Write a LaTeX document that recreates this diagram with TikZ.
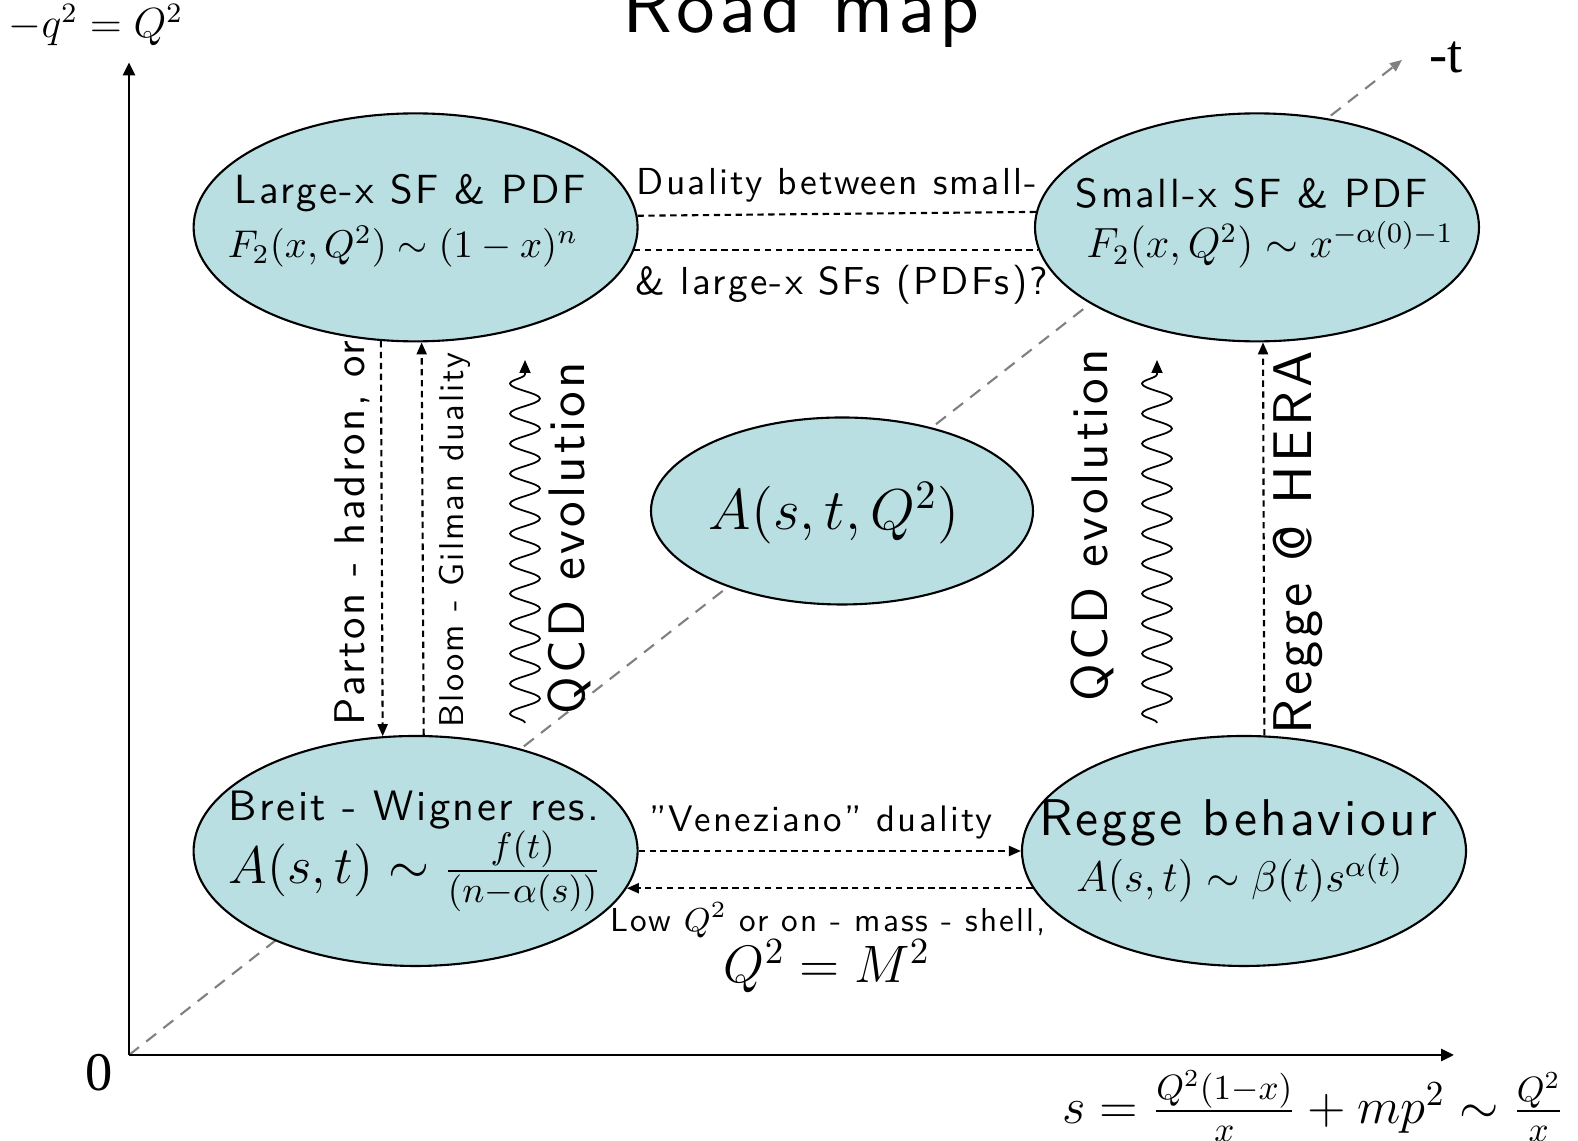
\RequirePackage{fix-cm}
\documentclass[tikz,border=0pt]{standalone}
\usepackage{amsmath}
\usepackage{fontspec}
\setsansfont{lmsans10-regular.otf}[LetterSpace=6]
\newfontfamily\timesfont{Liberation Serif}
\usetikzlibrary{arrows.meta, positioning, shapes.geometric, decorations.pathmorphing}
\definecolor{blobfill}{RGB}{185,223,227}
\tikzset{%
	blob/.style={
		ellipse,
		draw,
		line width=0.6pt,
		fill=blobfill,
		inner sep=0pt
	},
	lbl/.style={
		font=\fontsize{#1}{#1}\selectfont\sffamily,
		inner sep=1pt
	},
	num/.style={
		font=\fontsize{#1}{#1}\selectfont\rmfamily,
		inner sep=1pt
	},
	tms/.style={
		font=\fontsize{#1}{#1}\selectfont\timesfont,
		inner sep=1pt
	},
	link/.style={
		dash pattern=on 1.8pt off 1.3pt,
		line width=0.6pt
	},
	tip/.style={-{Triangle[length=1.2mm,width=1mm]}},
	axis/.style={line width=0.8pt, -{Triangle[length=1.3mm,width=1.2mm]}},
	wiggle/.style={
		decorate,
		decoration={snake, amplitude=1.5mm, segment length=3mm, post length=1.4mm},
		line width=0.5pt,
		-{Triangle[length=1.3mm,width=1.1mm]}
	},
}

\begin{document}
\begin{tikzpicture}
			\useasboundingbox (0,0) rectangle (15.78,11.41);
			\node[lbl=22, anchor=base] (title) at (8.01,11.08) {Road map};

			% axes and the -t diagonal
			\coordinate (O) at (1.29,0.86);
			\coordinate (ytop) at (1.29,10.785);
			\coordinate (xend) at (14.54,0.86);
			\coordinate (tend) at (14.02,10.81);
			\draw[gray, line width=0.6pt, dash pattern=on 3.6pt off 2.6pt, -{Triangle[length=1.2mm,width=1mm]}] (O) -- (tend);
			\draw[axis] (O) -- (ytop);
			\draw[axis] (O) -- (xend);
			\node[tms=15.5] (zero) at (0.99,0.68) {0};
			\node[num=12] (qlab) at (0.96,11.16) {$-q^2=Q^2$};
			\node[tms=15.5] (tlab) at (14.46,10.84) {-t};
			\node[num=14.4, anchor=west] (slab) at (10.58,0.35) {$s=\frac{Q^2(1{-}x)}{x}+mp^2\sim\frac{Q^2}{x}$};

			% the five regions
			\node[blob, minimum width=4.44cm, minimum height=2.28cm] (TL) at (4.156,9.136) {};
			\node[blob, minimum width=4.44cm, minimum height=2.28cm] (TR) at (12.57,9.136) {};
			\node[blob, minimum width=3.82cm, minimum height=1.87cm] (M) at (8.42,6.30) {};
			\node[blob, minimum width=4.44cm, minimum height=2.30cm] (BL) at (4.156,2.90) {};
			\node[blob, minimum width=4.44cm, minimum height=2.30cm] (BR) at (12.44,2.90) {};

			\node[lbl=11.6] (TLa) at (4.10,9.48) {Large-x SF \& PDF};
			\node[lbl=11] (TLb) at (4.03,8.94) {$F_2(x,Q^2)\sim(1-x)^n$};
			\node[lbl=11.6] (TRa) at (12.52,9.48) {Small-x SF \& PDF};
			\node[lbl=12] (TRb) at (12.70,8.96) {$F_2(x,Q^2)\sim x^{-\alpha(0)-1}$};
			\node[lbl=16.4] (Ma) at (8.34,6.28) {$A(s,t,Q^2)$};
			\node[lbl=12.1] (BLa) at (4.14,3.31) {Breit - Wigner res.};
			\node[lbl=15] (BLb) at (4.15,2.70) {$A(s,t)\sim\frac{f(t)}{(n{-}\alpha(s))}$};
			\node[lbl=14.7] (BRa) at (12.38,3.18) {Regge behaviour};
			\node[lbl=12.2] (BRb) at (12.40,2.63) {$A(s,t)\sim\beta(t)s^{\alpha(t)}$};

			% horizontal links
			\draw[link] (TL.3.4) -- (TR.176.6);
			\draw[link] (TL.-6.6) -- (TR.186.6);
			\node[lbl=10.7] (dual1) at (8.37,9.56) {Duality between small-};
			\node[lbl=11.1] (dual2) at (8.42,8.56) {\& large-x SFs (PDFs)?};

			\draw[link, tip] (BL.east) -- (BR.west);
			\draw[link, tip] (BR.190.3) -- (BL.-10.3);
			\node[lbl=10.5] (ven) at (8.21,3.19) {"Veneziano'' duality};
			\node[lbl=9.45] (low) at (8.28,2.21) {Low $Q^2$ or on - mass - shell,};
			\node[lbl=15] (mass) at (8.27,1.75) {$Q^2=M^2$};

			% vertical links
			\draw[link, tip] (TL.253.9) -- (BL.106.1);
			\draw[link, tip] (BL.86.8) -- (TL.273.2);
			\draw[link, tip] (BR.80.6) -- (TR.273);
			\node[lbl=12.2, rotate=90] (parton) at (3.52,6.08) {Parton - hadron, or};
			\node[lbl=9.8, rotate=90] (bloom) at (4.55,6.01) {Bloom - Gilman duality};
			\node[lbl=15.5, rotate=90] (regge) at (12.98,5.98) {Regge @ HERA};

			\coordinate (wl0) at (5.25,4.18);
			\coordinate (wl1) at (5.25,7.81);
			\coordinate (wr0) at (11.57,4.18);
			\coordinate (wr1) at (11.57,7.81);
			\draw[wiggle] (wl0) -- (wl1);
			\draw[wiggle] (wr0) -- (wr1);
			\node[lbl=14.6, rotate=90] (qcdl) at (5.69,6.03) {QCD evolution};
			\node[lbl=14.6, rotate=90] (qcdr) at (10.92,6.16) {QCD evolution};
		\end{tikzpicture}
\end{document}
